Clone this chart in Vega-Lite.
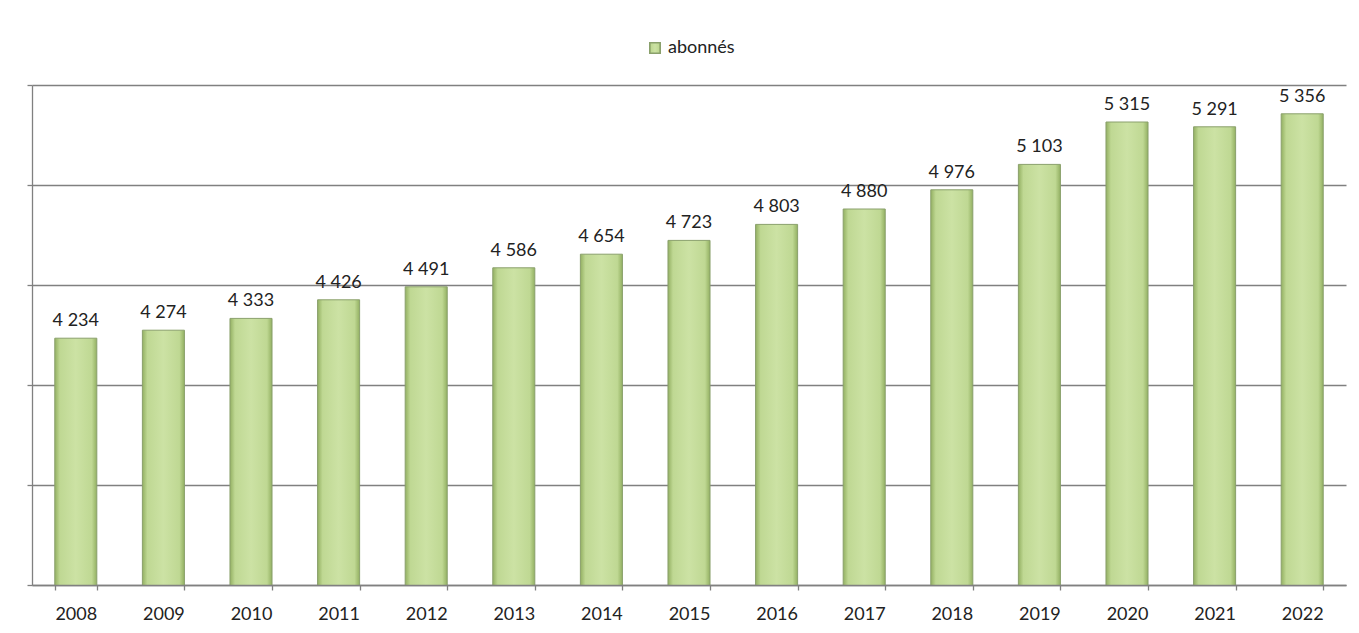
{
  "$schema": "https://vega.github.io/schema/vega-lite/v6.json",
  "width": 1314,
  "height": 500,
  "autosize": "none",
  "padding": {"left": 32, "top": 85, "right": 13, "bottom": 48},
  "background": "white",
  "config": {
    "view": {"stroke": null},
    "font": "Lato",
    "locale": {"number": {"decimal": ",", "thousands": " ", "grouping": [3], "currency": ["", " €"]}}
  },
  "data": {
    "values": [
      {"annee": "2008", "abonnes": 4234},
      {"annee": "2009", "abonnes": 4274},
      {"annee": "2010", "abonnes": 4333},
      {"annee": "2011", "abonnes": 4426},
      {"annee": "2012", "abonnes": 4491},
      {"annee": "2013", "abonnes": 4586},
      {"annee": "2014", "abonnes": 4654},
      {"annee": "2015", "abonnes": 4723},
      {"annee": "2016", "abonnes": 4803},
      {"annee": "2017", "abonnes": 4880},
      {"annee": "2018", "abonnes": 4976},
      {"annee": "2019", "abonnes": 5103},
      {"annee": "2020", "abonnes": 5315},
      {"annee": "2021", "abonnes": 5291},
      {"annee": "2022", "abonnes": 5356}
    ]
  },
  "encoding": {
    "x": {
      "field": "annee", "type": "ordinal", "sort": null,
      "scale": {"paddingInner": 0.52, "paddingOuter": 0.26},
      "axis": {
        "title": null, "labelAngle": 0, "labelFont": "Lato", "labelFontSize": 18,
        "labelColor": "#222", "labelPadding": 15, "tickBand": "extent",
        "tickSize": 5, "tickColor": "#808080", "tickWidth": 1.3, "domainColor": "#808080", "domainWidth": 1.3, "grid": false, "zindex": 1
      }
    },
    "y": {
      "field": "abonnes", "type": "quantitative",
      "scale": {"domain": [3000, 5500], "zero": false, "nice": false},
      "axis": {
        "title": null, "labels": false, "values": [3000, 3500, 4000, 4500, 5000, 5500],
        "tickSize": 5, "tickColor": "#808080", "tickWidth": 1.3, "domainColor": "#808080", "domainWidth": 1.3,
        "grid": true, "gridColor": "#808080", "gridWidth": 1.4, "gridOpacity": 1
      }
    }
  },
  "layer": [
    {
      "mark": {
        "type": "bar",
        "clip": true,
        "fill": {
          "gradient": "linear", "x1": 0, "x2": 1, "y1": 0, "y2": 0,
          "stops": [
            {"offset": 0, "color": "#93b062"},
            {"offset": 0.12, "color": "#bfd893"},
            {"offset": 0.5, "color": "#cce2a4"},
            {"offset": 0.88, "color": "#bfd893"},
            {"offset": 1, "color": "#93b062"}
          ]
        },
        "strokeWidth": 1
      },
      "encoding": {
        "stroke": {
          "datum": "abonnés",
          "scale": {"range": ["#8aa06c"]},
          "legend": {
            "title": null, "orient": "none", "legendX": 614, "legendY": -46,
            "symbolType": "square", "symbolSize": 110, "labelFont": "Lato",
            "labelFontSize": 18, "labelColor": "#222", "labelOffset": 4,
            "encode": {"symbols": {"update": {"fill": {"value": "#b7d488"}, "stroke": {"value": "#b7d488"}}}}
          }
        }
      }
    },
    {
      "mark": {"type": "text", "baseline": "bottom", "dy": -8, "font": "Lato", "fontSize": 18, "color": "#222"},
      "encoding": {
        "text": {"field": "abonnes", "type": "quantitative", "format": ",d"}
      }
    }
  ]
}
